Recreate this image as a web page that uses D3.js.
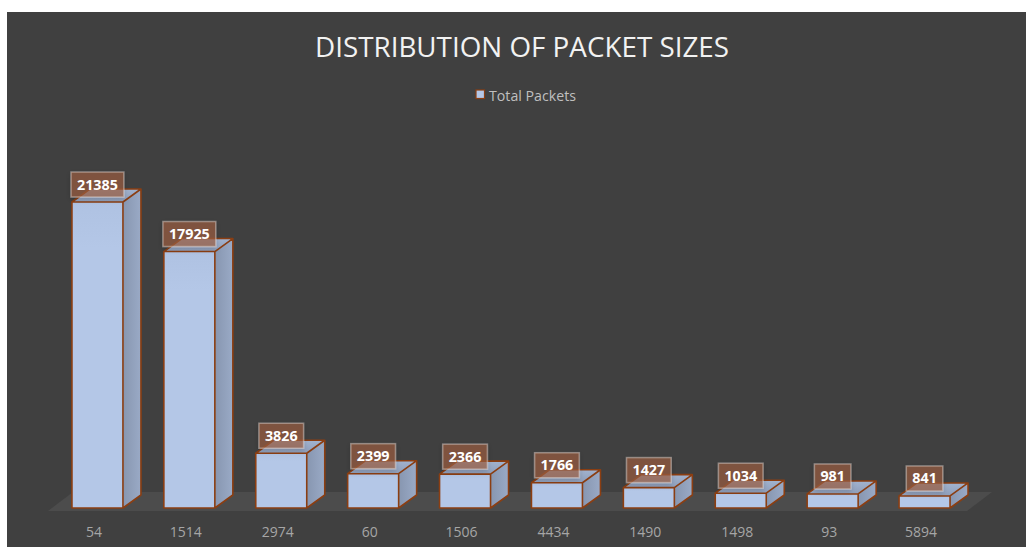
<!DOCTYPE html>
<html>
<head>
<meta charset="utf-8">
<script src="https://cdn.jsdelivr.net/npm/d3@7"></script>
<style>
  html, body { margin: 0; padding: 0; background: #ffffff; }
  svg { display: block; }
</style>
</head>
<body>
<svg id="chart" width="1026" height="547"></svg>
<script>
// Packet sizes (bytes) and how many packets of each size were captured
const categories = ["54", "1514", "2974", "60", "1506", "4434", "1490", "1498", "93", "5894"];
const totalPackets = [21385, 17925, 3826, 2399, 2366, 1766, 1427, 1034, 981, 841];
const seriesName = "Total Packets";
const chartTitle = "DISTRIBUTION OF PACKET SIZES";

const W = 1026, H = 547;
const svg = d3.select("#chart");
const FONT = "'Open Sans', 'Noto Sans', sans-serif";

// chart area
svg.append("rect").attr("x", 7).attr("y", 12).attr("width", W - 7).attr("height", H - 12)
  .attr("fill", "#404040");

// scales
const x = d3.scaleBand().domain(categories).range([48, 967]).padding(0);
const y = d3.scaleLinear().domain([0, 25000]).range([508, 150.3]);

// 3D projection settings
const floorDepth = { dx: 25, dy: -19 };
const barDepth = { dx: 18, dy: -13 };
const barShift = { dx: 3.5, dy: -3 };
const barW = 51;

const defs = svg.append("defs");
function grad(id, stops, vertical) {
  const g = defs.append("linearGradient").attr("id", id)
    .attr("x1", 0).attr("y1", 0).attr("x2", vertical ? 0 : 1).attr("y2", vertical ? 1 : 0);
  stops.forEach(([o, c]) => g.append("stop").attr("offset", o).attr("stop-color", c));
}
grad("gFront", [[0, "#AFC2E2"], [0.15, "#B4C7E7"], [1, "#B4C7E7"]], true);
grad("gSide", [[0, "#8796B0"], [1, "#9AAAC6"]], false);
grad("gTop", [[0, "#A2B3CF"], [1, "#8E9EBA"]], true);

// soft shadow under the value boxes
const sh = defs.append("filter").attr("id", "boxShadow")
  .attr("x", "-30%").attr("y", "-30%").attr("width", "160%").attr("height", "160%");
sh.append("feDropShadow").attr("dx", 0).attr("dy", 2).attr("stdDeviation", 2.5)
  .attr("flood-color", "#000").attr("flood-opacity", 0.25);

// floor
const fx0 = x.range()[0], fx1 = x.range()[1], fy = 511;
svg.append("path")
  .attr("d", `M${fx0},${fy}L${fx1},${fy}L${fx1 + floorDepth.dx},${fy + floorDepth.dy}L${fx0 + floorDepth.dx},${fy + floorDepth.dy}Z`)
  .attr("fill", "#4C4C4C");

const data = categories.map((c, i) => ({ cat: c, value: totalPackets[i] }));
const stroke = "#8B3E12";

const bars = svg.append("g").selectAll("g").data(data).join("g");
bars.each(function (d) {
  const g = d3.select(this);
  const cx = x(d.cat) + x.bandwidth() / 2 + barShift.dx;
  const x0 = cx - barW / 2, x1 = cx + barW / 2;
  const yb = y(0), yt = y(d.value);
  const { dx, dy } = barDepth;
  g.append("path")
    .attr("d", `M${x1},${yt}L${x1 + dx},${yt + dy}L${x1 + dx},${yb + dy}L${x1},${yb}Z`)
    .attr("fill", "url(#gSide)");
  g.append("path")
    .attr("d", `M${x0},${yt}L${x0 + dx},${yt + dy}L${x1 + dx},${yt + dy}L${x1},${yt}Z`)
    .attr("fill", "url(#gTop)");
  g.append("rect").attr("x", x0).attr("y", yt).attr("width", barW).attr("height", yb - yt)
    .attr("fill", "url(#gFront)");
  // edges
  g.append("path")
    .attr("d", `M${x0},${yb}L${x0},${yt}L${x0 + dx},${yt + dy}L${x1 + dx},${yt + dy}L${x1 + dx},${yb + dy}L${x1},${yb}Z` +
               `M${x0},${yt}L${x1},${yt}L${x1 + dx},${yt + dy}M${x1},${yt}L${x1},${yb}`)
    .attr("fill", "none").attr("stroke", stroke).attr("stroke-width", 1.6)
    .attr("stroke-linejoin", "round");
});

// value labels
const labels = svg.append("g").selectAll("g").data(data).join("g");
labels.each(function (d) {
  const g = d3.select(this);
  const cx = x(d.cat) + x.bandwidth() / 2 + barShift.dx;
  const yt = y(d.value);
  const bottom = yt - 5;
  const box = g.append("rect");
  const t = g.append("text").attr("x", cx).attr("y", bottom - 7.5)
    .attr("text-anchor", "middle").attr("font-family", FONT).attr("font-weight", 700)
    .attr("font-size", 14.3).attr("fill", "#FFFFFF").text(d.value);
  const tw = t.node().getComputedTextLength();
  const bw = tw + 12;
  box.attr("x", cx - bw / 2).attr("y", bottom - 25).attr("width", bw).attr("height", 25)
    .attr("fill", "rgba(158,95,66,0.66)").attr("stroke", "rgba(230,220,215,0.45)")
    .attr("stroke-width", 1.5).attr("filter", "url(#boxShadow)");
});

// category axis
const axis = d3.axisBottom(x).tickSize(0).tickPadding(0);
const ax = svg.append("g").attr("transform", "translate(0,537)").call(axis);
ax.select(".domain").remove();
ax.selectAll("text").attr("dy", 0).attr("y", 0)
  .attr("font-family", FONT).attr("font-size", 14).attr("fill", "#A6A6A6");

// title
svg.append("text").attr("x", 522).attr("y", 57).attr("text-anchor", "middle")
  .attr("font-family", FONT).attr("font-size", 28).attr("fill", "#F2F2F2")
  .attr("textLength", 414).attr("lengthAdjust", "spacingAndGlyphs")
  .text(chartTitle);

// legend
svg.append("rect").attr("x", 476).attr("y", 90).attr("width", 8.5).attr("height", 8.5)
  .attr("fill", "#B4C7E7").attr("stroke", stroke).attr("stroke-width", 1.2);
svg.append("text").attr("x", 489).attr("y", 100.5).attr("font-family", FONT)
  .attr("font-size", 14).attr("fill", "#BFBFBF")
  .attr("textLength", 87).attr("lengthAdjust", "spacingAndGlyphs")
  .text(seriesName);
</script>
</body>
</html>
